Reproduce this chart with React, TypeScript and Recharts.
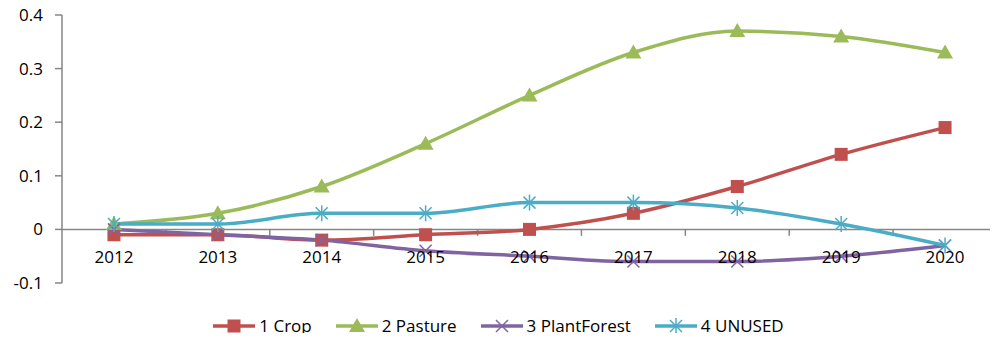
import React from 'react';
import { LineChart, Line, XAxis, YAxis, ReferenceLine, Legend } from 'recharts';

const years = [2012, 2013, 2014, 2015, 2016, 2017, 2018, 2019, 2020];
const crop = [-0.01, -0.01, -0.02, -0.01, 0, 0.03, 0.08, 0.14, 0.19];
const pasture = [0.01, 0.03, 0.08, 0.16, 0.25, 0.33, 0.37, 0.36, 0.33];
const plantForest = [0, -0.01, -0.02, -0.04, -0.05, -0.06, -0.06, -0.05, -0.03];
const unused = [0.01, 0.01, 0.03, 0.03, 0.05, 0.05, 0.04, 0.01, -0.03];
const yTicks = [-0.1, 0, 0.1, 0.2, 0.3, 0.4];

const data = years.map((year, i) => ({
    year,
    crop: crop[i],
    pasture: pasture[i],
    plantForest: plantForest[i],
    unused: unused[i],
}));

// boundaries between categories, where Excel puts its tick marks
const boundaries = years.map(y => y + 0.5);

const FONT = '"Open Sans", "Noto Sans", sans-serif';
const AXIS = '#868686';

type Shape = 'square' | 'triangle' | 'x' | 'star';

function Marker({ cx, cy, shape, color }: { cx: number; cy: number; shape: Shape; color: string }) {
    switch (shape) {
        case 'square':
            return <rect x={cx - 6.5} y={cy - 6.5} width={13} height={13} fill={color} />;
        case 'triangle':
            return <polygon points={`${cx},${cy - 8} ${cx + 8},${cy + 6} ${cx - 8},${cy + 6}`} fill={color} />;
        case 'x':
            return (
                <g stroke={color} strokeWidth={1.5}>
                    <line x1={cx - 6} y1={cy - 6} x2={cx + 6} y2={cy + 6} />
                    <line x1={cx - 6} y1={cy + 6} x2={cx + 6} y2={cy - 6} />
                </g>
            );
        case 'star':
            return (
                <g stroke={color} strokeWidth={1.5}>
                    <line x1={cx - 6} y1={cy - 6} x2={cx + 6} y2={cy + 6} />
                    <line x1={cx - 6} y1={cy + 6} x2={cx + 6} y2={cy - 6} />
                    <line x1={cx} y1={cy - 8} x2={cx} y2={cy + 8} />
                </g>
            );
        default:
            return null;
    }
}

const SERIES: { key: string; name: string; color: string; shape: Shape }[] = [
    { key: 'crop', name: '1 Crop', color: '#C0504D', shape: 'square' },
    { key: 'pasture', name: '2 Pasture', color: '#9BBB59', shape: 'triangle' },
    { key: 'plantForest', name: '3 PlantForest', color: '#8064A2', shape: 'x' },
    { key: 'unused', name: '4 UNUSED', color: '#4BACC6', shape: 'star' },
];

function LegendContent() {
    return (
        <div style={{ display: 'flex', justifyContent: 'center', gap: 24, paddingTop: 9, fontFamily: FONT, fontSize: 17, color: '#000' }}>
            {SERIES.map(s => (
                <div key={s.key} style={{ display: 'flex', alignItems: 'center', gap: 4 }}>
                    <svg width={42} height={18}>
                        <line x1={0} y1={9} x2={42} y2={9} stroke={s.color} strokeWidth={3.5} />
                        <Marker cx={21} cy={9} shape={s.shape} color={s.color} />
                    </svg>
                    <span>{s.name}</span>
                </div>
            ))}
        </div>
    );
}

export default function App() {
    return (
        <div style={{ margin: -8, background: '#fff', width: 998, height: 341 }}>
            <LineChart width={998} height={341} data={data} margin={{ top: 15, right: 1, left: 0, bottom: 0 }}>
                <XAxis
                    dataKey="year"
                    type="number"
                    domain={[2011.5, 2020.5]}
                    ticks={years}
                    axisLine={false}
                    tickLine={false}
                    height={22}
                    tick={{ fill: '#000', fontSize: 17, fontFamily: FONT, dy: -40 }}
                />
                <YAxis
                    domain={[-0.1, 0.4]}
                    ticks={yTicks}
                    width={62}
                    axisLine={{ stroke: AXIS, strokeWidth: 1.5 }}
                    tickLine={{ stroke: AXIS, strokeWidth: 1.5 }}
                    tickSize={7}
                    tickMargin={12}
                    tick={{ fill: '#000', fontSize: 17, fontFamily: FONT }}
                />
                <ReferenceLine y={0} stroke={AXIS} strokeWidth={1.5} />
                {boundaries.map(b => (
                    <ReferenceLine key={b} segment={[{ x: b, y: 0 }, { x: b, y: -0.012 }]} stroke={AXIS} strokeWidth={1.5} />
                ))}
                {SERIES.map(s => (
                    <Line
                        key={s.key}
                        type="monotone"
                        dataKey={s.key}
                        name={s.name}
                        stroke={s.color}
                        strokeWidth={3.5}
                        isAnimationActive={false}
                        dot={(p: any) => <Marker key={`${s.key}-${p.index}`} cx={p.cx} cy={p.cy} shape={s.shape} color={s.color} />}
                        activeDot={false}
                    />
                ))}
                <Legend verticalAlign="bottom" height={36} content={<LegendContent />} />
            </LineChart>
        </div>
    );
}
